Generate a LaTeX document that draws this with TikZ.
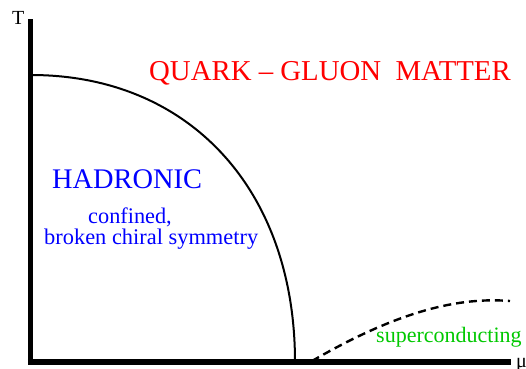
\documentclass[tikz,border=0pt]{standalone}
\usepackage{fontspec}
\setmainfont{Liberation Serif}
\definecolor{qgpred}{RGB}{255,0,0}
\definecolor{hadblue}{RGB}{0,0,255}
\definecolor{scgreen}{RGB}{0,200,0}
\begin{document}
\begin{tikzpicture}[x=1pt,y=-1pt,
  lbl/.style={inner sep=0pt, anchor=base west},
  axisline/.style={line width=5.5pt},
  boundary/.style={line width=2pt},
  scline/.style={line width=2.4pt, dash pattern=on 8pt off 5pt}]
\useasboundingbox (0,0) rectangle (526,368);
% axes
\coordinate (ytop) at (30.5,19);
\coordinate (origin) at (30.5,362);
\coordinate (xend) at (511,362);
\draw[axisline] (ytop) -- (origin.center) ++(-2.75,0) -- (xend);
% labels of axes
\node[lbl, font=\fontsize{20}{20}\selectfont] (T) at (12,24) {T};
\node[lbl, font=\fontsize{20}{20}\selectfont] (mu) at (516,367) {μ};
% hadronic boundary
\coordinate (bstart) at (31,75);
\coordinate (bend) at (295,362);
\draw[boundary] (bstart) .. controls (189.4,75) and (295,189.8) .. (bend);
% superconducting boundary
\coordinate (sstart) at (312,361);
\coordinate (send) at (510,301);
\draw[scline] (sstart) .. controls (400,310) and (460,297) .. (send);
% texts
\node[lbl, text=qgpred, font=\fontsize{28.8}{28.8}\selectfont] (qgp) at (149,80) {QUARK – GLUON\ \ MATTER};
\node[lbl, text=hadblue, font=\fontsize{28.4}{28.4}\selectfont] (had) at (52,188) {HADRONIC};
\node[lbl, text=hadblue, font=\fontsize{22.3}{22.3}\selectfont] (conf) at (88,223) {confined,};
\node[lbl, text=hadblue, font=\fontsize{22.4}{22.4}\selectfont] (chiral) at (44,244) {broken chiral symmetry};
\node[lbl, text=scgreen, font=\fontsize{22}{22}\selectfont] (sc) at (376,342) {superconducting};
\end{tikzpicture}
\end{document}
